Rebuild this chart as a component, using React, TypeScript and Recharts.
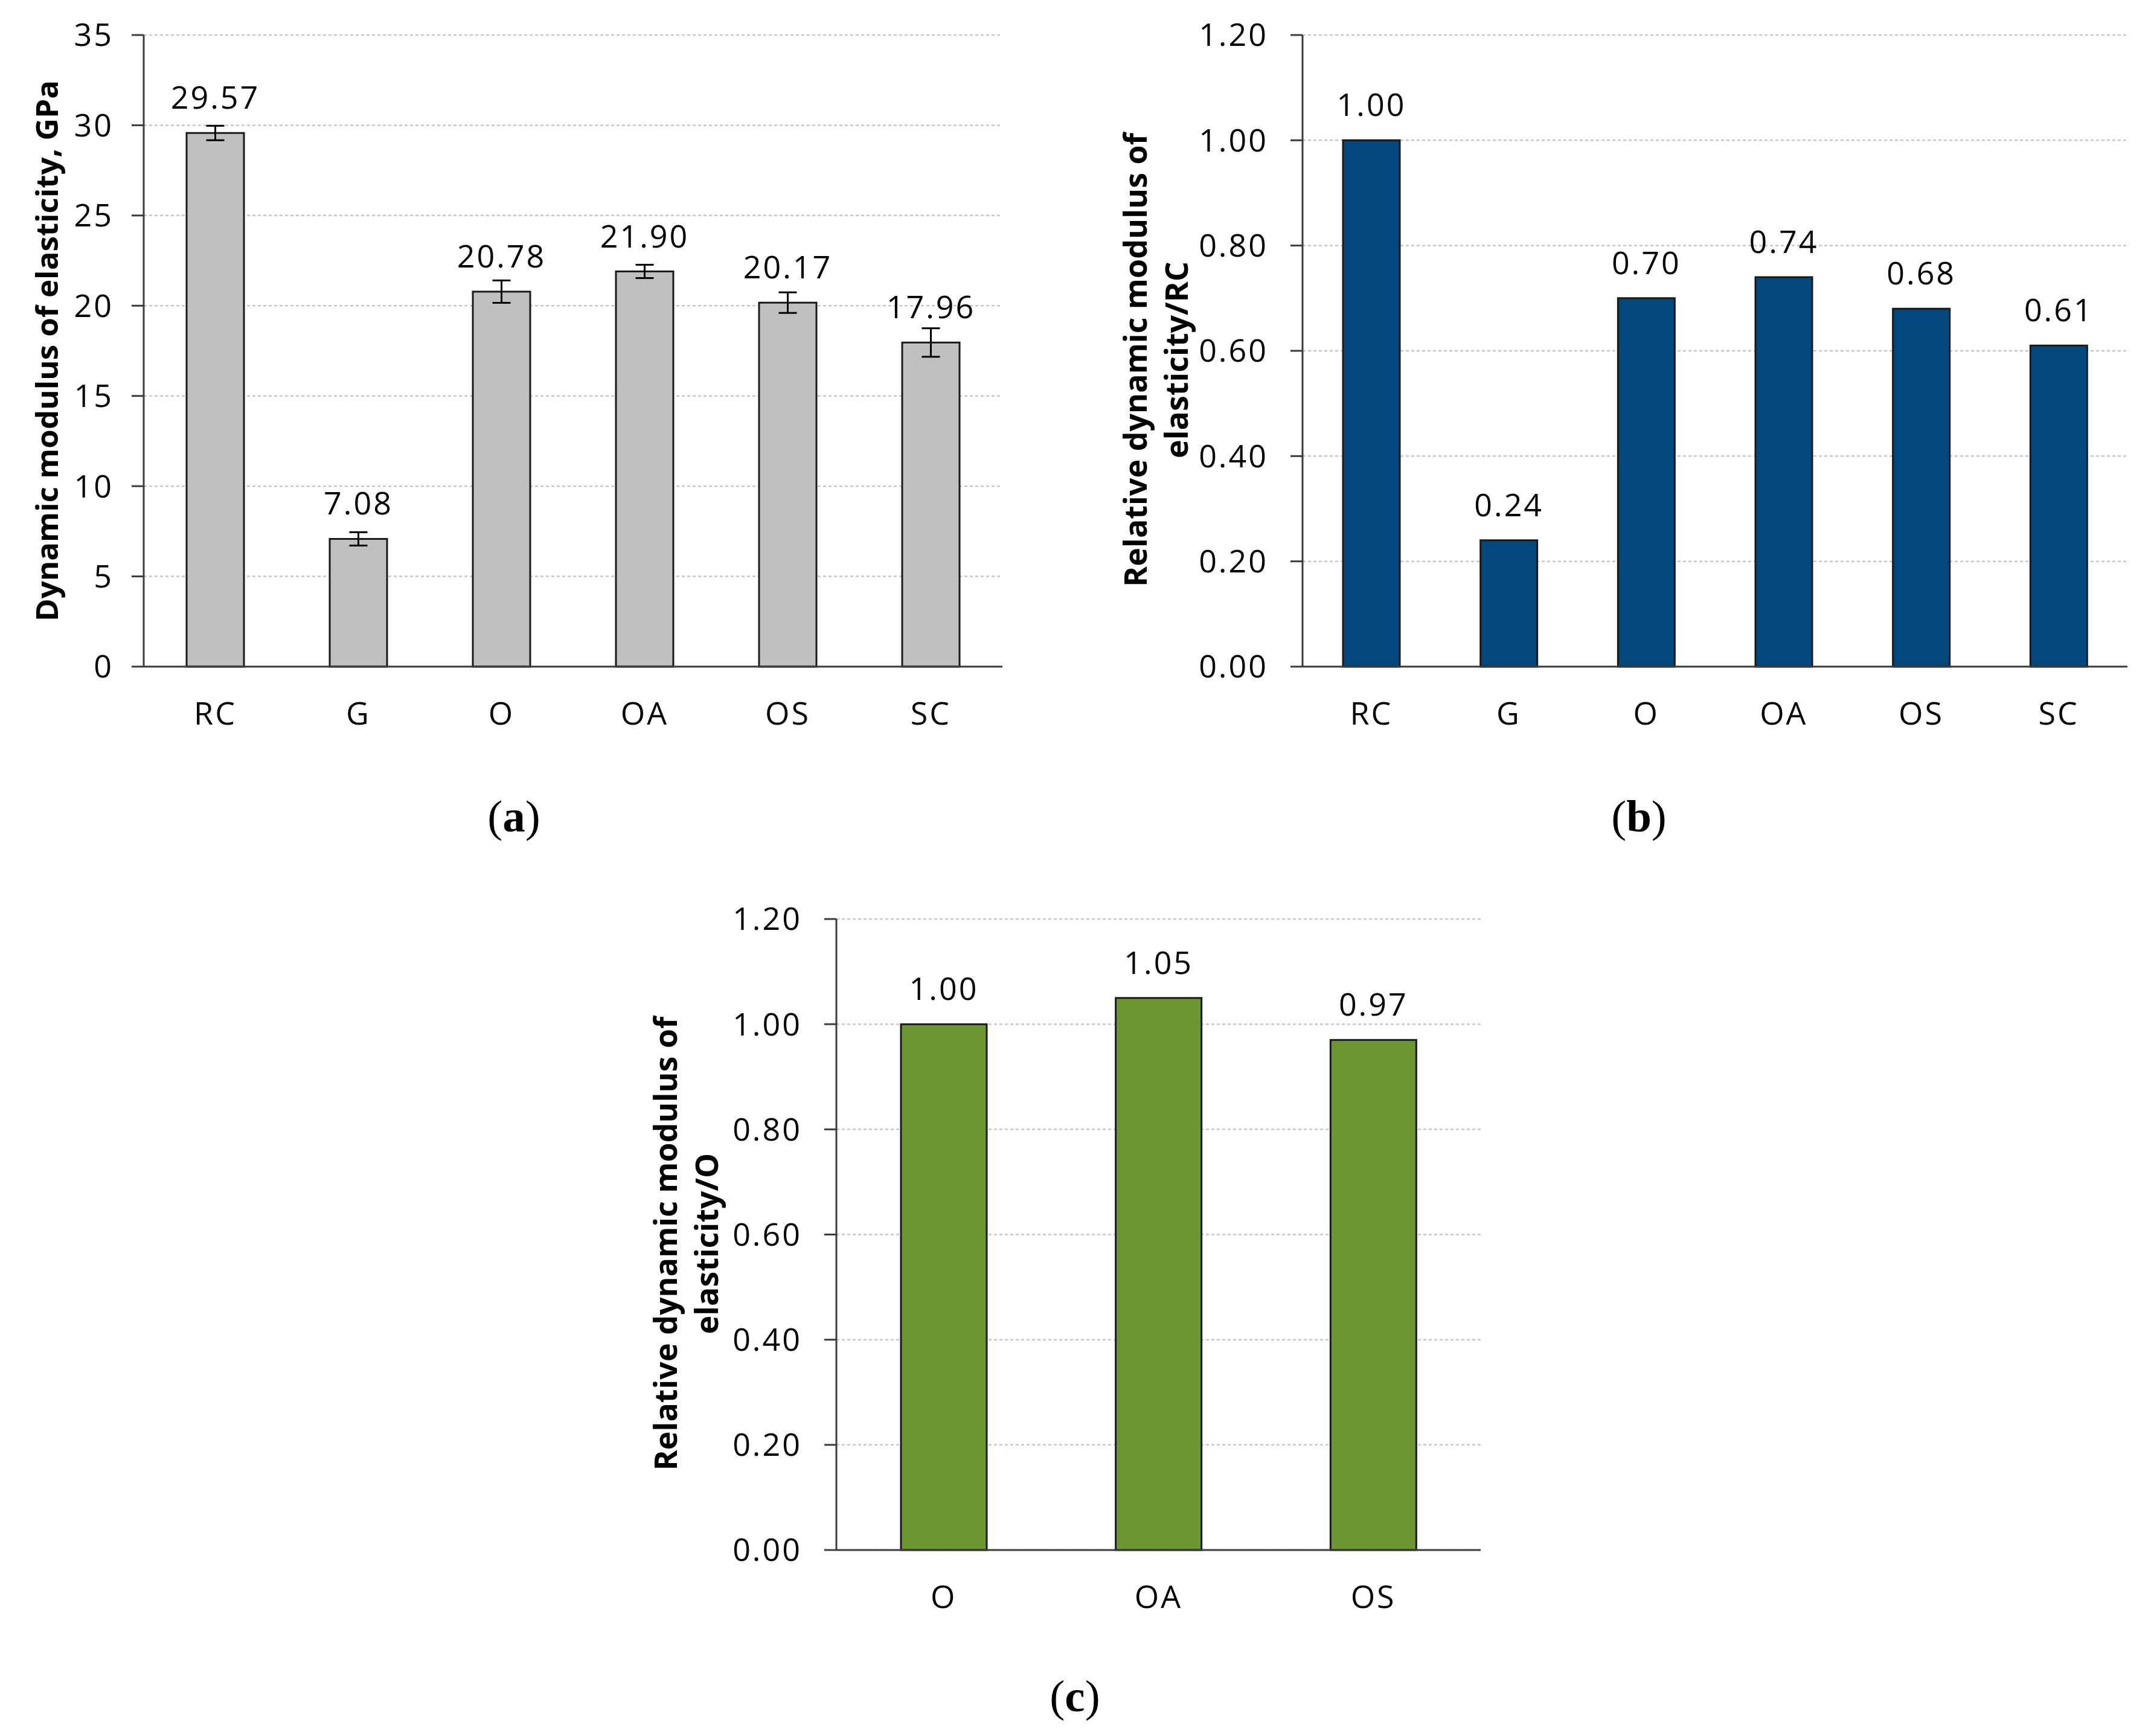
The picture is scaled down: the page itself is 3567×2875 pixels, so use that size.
import React from 'react';
import { BarChart, Bar, XAxis, YAxis, CartesianGrid, ErrorBar } from 'recharts';

// ---------- data ----------
const categoriesAB = ['RC', 'G', 'O', 'OA', 'OS', 'SC'];
const modulusValues = [29.57, 7.08, 20.78, 21.9, 20.17, 17.96];
const modulusErrors = [0.4, 0.37, 0.62, 0.37, 0.57, 0.79];
const relativeToRC = [1.0, 0.24, 0.7, 0.74, 0.68, 0.61];
const categoriesC = ['O', 'OA', 'OS'];
const relativeToO = [1.0, 1.05, 0.97];
const ticksModulus = [0, 5, 10, 15, 20, 25, 30, 35];
const ticksRelative = [0, 0.2, 0.4, 0.6, 0.8, 1.0, 1.2];

const dataA = categoriesAB.map((c, i) => ({ cat: c, value: modulusValues[i], err: modulusErrors[i] }));
const dataB = categoriesAB.map((c, i) => ({ cat: c, value: relativeToRC[i] }));
const dataC = categoriesC.map((c, i) => ({ cat: c, value: relativeToO[i] }));

const FONT = "'Open Sans', sans-serif";
const AXIS = '#3c3c3c';

type PanelProps = {
  left: number;
  top: number;
  width: number;
  height: number;
  margin: { top: number; right: number; bottom: number; left: number };
  yAxisWidth: number;
  data: { cat: string; value: number; err?: number }[];
  color: string;
  yMax: number;
  yTicks: number[];
  yFmt: (v: number) => string;
  titleLines: string[];
  titleXs: number[];
  titleSize: number;
  titleDy: number;
  barSize: number;
  withError?: boolean;
  yTickMargin: number;
};

const makeTitle = (lines: string[], xs: number[], size: number, dy: number) => (props: any) => {
  const vb = props.viewBox || {};
  const cy = vb.y + vb.height / 2 + dy;
  return (
    <g>
      {lines.map((ln, i) => (
        <text
          key={i}
          x={vb.x + xs[i]}
          y={cy}
          transform={`rotate(-90 ${vb.x + xs[i]} ${cy})`}
          textAnchor="middle"
          dominantBaseline="central"
          fontFamily={FONT}
          fontWeight={700}
          fontSize={size}
          fill="#000"
        >
          {ln}
        </text>
      ))}
    </g>
  );
};

const ValueLabel = (props: any) => {
  const { x, y, width, value } = props;
  return (
    <text
      x={x + width / 2}
      y={y - 40}
      textAnchor="middle"
      fontFamily={FONT}
      fontSize={52}
      letterSpacing={3}
      fill="#000"
    >
      {Number(value).toFixed(2)}
    </text>
  );
};

function Panel(p: PanelProps) {
  const n = p.data.length;
  const edgeTicks = Array.from({ length: n + 1 }, (_, i) => i);
  return (
    <div style={{ position: 'absolute', left: p.left, top: p.top, width: p.width, height: p.height }}>
      <BarChart width={p.width} height={p.height} data={p.data} margin={p.margin}>
        <CartesianGrid
          xAxisId="cats"
          vertical={false}
          stroke="#c8c8c8"
          strokeWidth={2.5}
          strokeDasharray="5 4"
        />
        <XAxis
          xAxisId="edges"
          type="number"
          domain={[0, n]}
          allowDataOverflow
          ticks={edgeTicks}
          tick={false}
          tickSize={21}
          tickLine={{ stroke: AXIS, strokeWidth: 3 }}
          axisLine={false}
          height={0}
        />
        <XAxis
          xAxisId="cats"
          dataKey="cat"
          type="category"
          height={100}
          tickLine={false}
          tickSize={20}
          tickMargin={39}
          axisLine={{ stroke: AXIS, strokeWidth: 3 }}
          tick={{ fontFamily: FONT, fontSize: 52, fill: '#000', letterSpacing: 3 } as any}
        />
        <YAxis
          width={p.yAxisWidth}
          domain={[0, p.yMax]}
          ticks={p.yTicks}
          interval={0}
          tickFormatter={p.yFmt}
          tickSize={20}
          tickMargin={p.yTickMargin}
          tickLine={{ stroke: AXIS, strokeWidth: 3 }}
          axisLine={{ stroke: AXIS, strokeWidth: 3 }}
          tick={{ fontFamily: FONT, fontSize: 52, fill: '#000', letterSpacing: 3 } as any}
          label={{ content: makeTitle(p.titleLines, p.titleXs, p.titleSize, p.titleDy) } as any}
        />
        <Bar
          xAxisId="cats"
          dataKey="value"
          fill={p.color}
          stroke="#1a1a1a"
          strokeWidth={3}
          barSize={p.barSize}
          isAnimationActive={false}
          label={<ValueLabel />}
        >
          {p.withError ? (
            <ErrorBar dataKey="err" width={15} stroke="#000" strokeWidth={3} direction="y" />
          ) : null}
        </Bar>
      </BarChart>
    </div>
  );
}

const Caption = ({ x, y, letter }: { x: number; y: number; letter: string }) => (
  <div
    style={{
      position: 'absolute',
      left: x - 150,
      top: y - 40,
      width: 300,
      height: 80,
      lineHeight: '80px',
      textAlign: 'center',
      fontFamily: "'Liberation Serif', 'Times New Roman', serif",
      fontSize: 75,
      color: '#000',
    }}
  >
    (<b>{letter}</b>)
  </div>
);

export default function App() {
  return (
    <div style={{ position: 'absolute', left: 0, top: 0, width: 3567, height: 2875, background: '#fff' }}>
      <Panel
        left={0}
        top={0}
        width={1700}
        height={1250}
        margin={{ top: 58, right: 40, bottom: 46, left: 0 }}
        yAxisWidth={238}
        data={dataA}
        color="#c0c0c0"
        yMax={35}
        yTicks={ticksModulus}
        yFmt={(v) => String(v)}
        titleLines={['Dynamic modulus of elasticity, GPa']}
        titleXs={[76]}
        titleSize={51}
        titleDy={0}
        barSize={95}
        withError
        yTickMargin={30}
      />
      <Panel
        left={1780}
        top={0}
        width={1787}
        height={1250}
        margin={{ top: 58, right: 44, bottom: 46, left: 0 }}
        yAxisWidth={377}
        data={dataB}
        color="#03477f"
        yMax={1.2}
        yTicks={ticksRelative}
        yFmt={(v) => v.toFixed(2)}
        titleLines={['Relative dynamic modulus of', 'elasticity/RC']}
        titleXs={[98, 166]}
        titleSize={52}
        titleDy={15}
        barSize={94}
        yTickMargin={37}
      />
      <Panel
        left={1000}
        top={1400}
        width={1500}
        height={1300}
        margin={{ top: 122, right: 48, bottom: 33, left: 0 }}
        yAxisWidth={385}
        data={dataC}
        color="#6b9631"
        yMax={1.2}
        yTicks={ticksRelative}
        yFmt={(v) => v.toFixed(2)}
        titleLines={['Relative dynamic modulus of', 'elasticity/O']}
        titleXs={[100, 168]}
        titleSize={52}
        titleDy={15}
        barSize={142}
        yTickMargin={37}
      />
      <Caption x={851} y={1352} letter="a" />
      <Caption x={2714} y={1352} letter="b" />
      <Caption x={1780} y={2809} letter="c" />
    </div>
  );
}
